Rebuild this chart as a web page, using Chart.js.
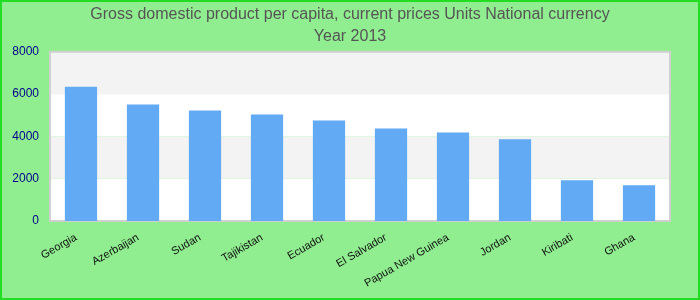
<!DOCTYPE html>
<html>
<head>
<meta charset="utf-8">
<script src="https://cdn.jsdelivr.net/npm/chart.js@4/dist/chart.umd.min.js"></script>
<style>
  html, body { margin: 0; padding: 0; background: #90ee90; }
  #wrap { width: 700px; height: 300px; }
</style>
</head>
<body>
<div id="wrap"><canvas id="chartGdp"></canvas></div>
<script>
// data
const countries = ['Georgia', 'Azerbaijan', 'Sudan', 'Tajikistan', 'Ecuador',
  'El Salvador', 'Papua New Guinea', 'Jordan', 'Kiribati', 'Ghana'];
const gdpValues = [6350, 5505, 5225, 5035, 4750, 4375, 4190, 3860, 1930, 1695];
const yTicks = [0, 2000, 4000, 6000, 8000];
const titleLines = ['Gross domestic product per capita, current prices Units National currency', 'Year 2013'];

// background, outer border, banded plot area
const backdrop = {
  id: 'backdrop',
  beforeDraw(chart) {
    const ctx = chart.ctx;
    const area = chart.chartArea;
    const y = chart.scales.y;
    ctx.save();
    ctx.fillStyle = '#90ee90';
    ctx.fillRect(0, 0, chart.width, chart.height);
    ctx.strokeStyle = '#22dd22';
    ctx.lineWidth = 2;
    ctx.strokeRect(1, 1, chart.width - 2, chart.height - 2);
    for (let i = 0; i < yTicks.length - 1; i++) {
      const top = y.getPixelForValue(yTicks[i + 1]);
      const bot = y.getPixelForValue(yTicks[i]);
      ctx.fillStyle = i % 2 === 0 ? '#ffffff' : '#f3f3f3';
      ctx.fillRect(area.left, top, area.right - area.left, bot - top);
    }
    ctx.strokeStyle = '#d0d0d0';
    ctx.lineWidth = 2;
    ctx.strokeRect(area.left, area.top, area.right - area.left, area.bottom - area.top);
    ctx.restore();
  }
};

new Chart('chartGdp', {
  type: 'bar',
  data: {
    labels: countries,
    datasets: [{
      data: gdpValues,
      backgroundColor: '#62aaf4',
      barPercentage: 0.52,
      categoryPercentage: 1
    }]
  },
  options: {
    responsive: true,
    maintainAspectRatio: false,
    animation: false,
    layout: { padding: 0 },
    plugins: {
      legend: { display: false },
      tooltip: { enabled: false },
      title: {
        display: true,
        text: titleLines,
        color: '#555555',
        font: { family: 'Liberation Sans, Arial', size: 16, weight: 'normal', lineHeight: 1.4 },
        padding: { top: 3, bottom: 4 }
      }
    },
    scales: {
      x: {
        grid: { display: false, drawTicks: false },
        border: { display: false },
        ticks: {
          color: '#111111',
          font: { family: 'Liberation Sans, Arial', size: 11 },
          maxRotation: 30,
          minRotation: 30,
          autoSkip: false,
          padding: 10,
          labelOffset: -5
        },
        afterFit(scale) { scale.height = 79; }
      },
      y: {
        min: 0,
        max: 8000,
        grid: { display: false, drawTicks: false },
        border: { display: false },
        ticks: {
          stepSize: 2000,
          color: '#00008b',
          font: { family: 'Liberation Sans, Arial', size: 12 },
          padding: 11,
          callback: (v) => String(v)
        },
        afterFit(scale) { scale.width = 50; }
      },
      // empty right margin so the title stays centred on the whole canvas
      yRight: {
        position: 'right',
        min: 0,
        max: 8000,
        grid: { display: false, drawTicks: false },
        border: { display: false },
        ticks: { display: false },
        afterFit(scale) { scale.width = 30; }
      }
    }
  },
  plugins: [backdrop]
});
</script>
</body>
</html>
